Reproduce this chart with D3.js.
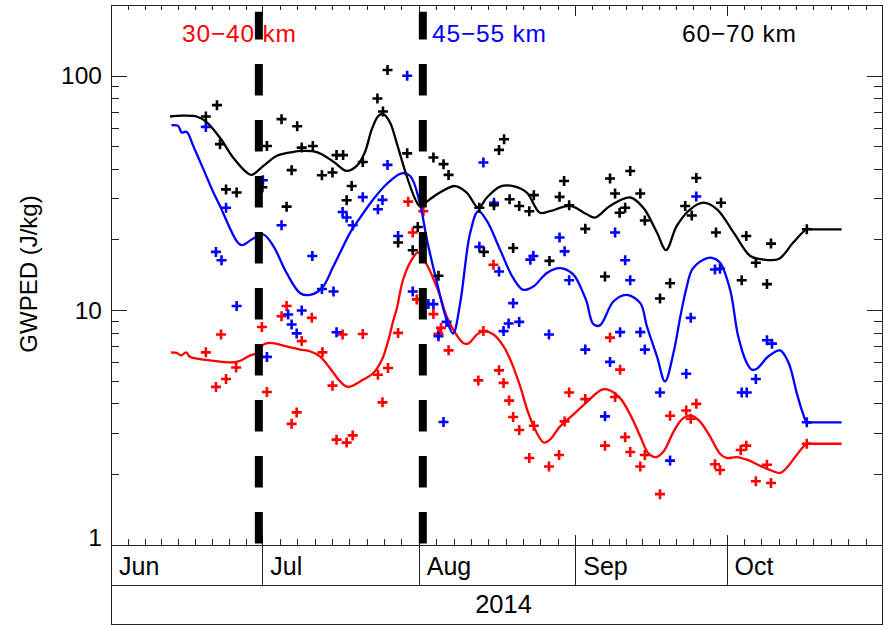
<!DOCTYPE html>
<html><head><meta charset="utf-8">
<script src="https://cdn.jsdelivr.net/npm/d3@7"></script>
<style>body{margin:0;background:#fff}svg{display:block;font-family:"Liberation Sans",Arial,sans-serif}</style>
</head><body><svg id="c" width="889" height="625"></svg>
<script>
// ---------- data ----------
const months = ["Jun","Jul","Aug","Sep","Oct"];
const yearLabel = "2014";
const yTickLabels = [1, 10, 100];
const yAxisTitle = "GWPED (J/kg)";
const seriesLabels = ["30\u221240 km", "45\u221255 km", "60\u221270 km"];
const seriesColors = ["#ff0000", "#0000ff", "#000000"];
const eventDays = [29.3, 61.8];           // days after 2014-06-01
// [days after 2014-06-01, GWPED J/kg]
const redPoints = [[18.8,6.60],[20.8,4.70],[21.8,7.86],[22.8,5.08],[24.8,5.69],[29.9,8.46],[30.9,4.47],[33.8,9.41],[34.8,10.4],[35.8,3.27],[36.8,3.66],[37.8,7.37],[39.8,9.26],[41.9,6.60],[43.9,4.76],[44.7,2.80],[45.9,7.86],[46.7,2.72],[47.9,2.92],[49.9,7.90],[52.9,5.30],[53.8,4.04],[54.9,5.66],[56.9,7.99],[58.9,29.0],[59.8,21.4],[60.6,11.1],[61.9,26.4],[63.9,9.61],[64.9,7.91],[65.4,8.39],[66.9,6.73],[72.8,5.01],[73.8,8.13],[75.8,15.6],[76.9,5.53],[77.8,4.89],[78.9,4.11],[79.7,3.50],[80.9,3.08],[82.9,2.34],[83.8,3.21],[86.8,2.15],[88.8,2.41],[89.9,3.35],[90.8,4.45],[94.0,4.17],[97.9,2.64],[98.9,7.63],[99.9,4.26],[100.9,5.57],[101.9,2.87],[102.9,2.48],[104.9,2.15],[105.8,2.41],[108.8,1.64],[110.8,3.54],[114.0,3.73],[114.9,3.44],[116.0,3.98],[119.7,2.20],[120.7,2.08],[124.8,2.53],[125.9,2.64],[127.8,1.86],[130.0,2.19],[130.8,1.83],[137.9,2.69]];
const bluePoints = [[18.8,60.4],[20.8,17.7],[21.9,16.3],[22.8,27.3],[24.9,10.4],[30.1,35.8],[30.9,6.31],[33.8,23.0],[35.1,9.57],[35.8,8.67],[36.8,7.95],[37.8,9.95],[39.9,17.0],[41.8,12.3],[44.1,12.0],[44.7,8.04],[45.9,26.2],[46.7,24.8],[47.9,23.0],[49.9,30.3],[52.9,26.9],[53.8,29.5],[54.8,41.6],[56.9,20.7],[58.7,99.8],[59.8,12.0],[62.9,10.6],[63.9,10.6],[64.9,7.73],[65.9,3.33],[66.5,8.90],[73.0,18.6],[73.8,42.6],[75.9,28.7],[76.9,14.6],[77.8,8.13],[78.8,8.76],[79.7,10.7],[80.9,8.90],[83.1,16.4],[83.7,17.0],[86.8,7.86],[88.9,20.4],[89.9,17.8],[90.8,13.4],[94.0,6.78],[97.9,3.52],[98.9,6.01],[99.9,21.4],[100.9,8.05],[101.9,16.3],[102.9,13.4],[104.9,8.05],[105.8,6.78],[108.8,4.45],[110.8,2.28],[114.0,5.35],[114.9,9.26],[116.0,30.5],[119.7,14.9],[120.7,15.0],[125.0,4.45],[126.0,4.45],[127.8,5.08],[130.0,7.43],[131.0,7.19],[137.9,3.32]];
const blackPoints = [[18.8,66.9],[21.0,74.8],[21.6,51.0],[22.8,32.7],[24.9,31.7],[30.0,33.4],[30.9,50.1],[33.8,65.2],[34.8,27.6],[35.8,39.5],[36.9,60.8],[37.8,49.3],[40.0,50.1],[41.8,37.6],[43.9,38.6],[44.7,45.8],[46.0,45.8],[46.7,29.4],[47.7,33.8],[49.9,42.8],[52.8,79.9],[53.9,70.3],[54.8,105.6],[56.9,19.4],[58.7,46.6],[59.8,18.0],[60.8,22.6],[63.9,44.7],[64.9,14.0],[65.9,41.9],[66.9,37.7],[73.0,27.3],[73.9,17.7],[75.9,28.0],[76.9,48.2],[77.9,53.5],[79.0,29.7],[79.7,18.4],[80.9,27.8],[82.9,26.4],[83.8,30.9],[86.9,16.2],[88.9,30.4],[89.8,35.5],[90.8,28.0],[94.0,22.2],[97.9,13.9],[98.9,36.4],[99.9,31.4],[100.8,26.0],[101.9,27.3],[102.9,39.2],[104.9,31.4],[105.8,24.1],[108.8,11.2],[110.8,13.0],[113.8,27.8],[115.1,25.3],[116.0,36.6],[119.9,21.4],[120.9,28.7],[125.0,13.4],[125.9,20.7],[127.8,15.9],[130.0,12.9],[130.8,19.2],[137.9,22.1]];
const redLine = [[11.9,6.60],[13.0,6.56],[13.9,6.41],[14.9,6.60],[15.5,6.35],[16.3,6.25],[19.6,6.10],[24.2,5.98],[25.6,6.08],[27.5,6.39],[28.9,6.56],[30.2,7.12],[31.5,7.24],[34.8,7.00],[37.5,6.78],[39.4,6.67],[41.4,6.35],[44.1,5.39],[45.4,4.96],[47.0,4.70],[50.0,5.05],[52.0,5.39],[53.7,6.14],[55.0,7.48],[56.0,9.11],[56.6,10.05],[57.9,13.5],[59.6,16.4],[60.9,17.6],[62.6,15.6],[64.2,13.1],[65.2,11.5],[66.5,9.41],[68.2,8.0],[69.8,7.24],[70.8,7.19],[72.5,7.86],[73.8,8.12],[75.8,7.86],[77.8,7.00],[79.4,5.95],[81.1,4.72],[82.7,3.64],[84.4,2.99],[85.8,2.72],[87.0,2.80],[89.0,3.19],[91.6,3.58],[94.3,4.05],[97.3,4.58],[98.9,4.54],[100.9,4.21],[102.9,3.58],[104.9,2.89],[106.5,2.45],[108.0,2.36],[109.5,2.49],[111.5,3.03],[113.4,3.46],[115.1,3.54],[116.7,3.35],[118.7,2.89],[120.7,2.44],[122.0,2.34],[124.0,2.36],[126.0,2.30],[128.6,2.17],[131.3,2.05],[132.6,2.02],[133.9,2.12],[135.9,2.41],[137.9,2.69],[139.0,2.69],[144.8,2.69]];
const blueLine = [[12.0,61.4],[13.3,61.0],[14.0,57.2],[15.0,57.5],[16.3,50.1],[18.3,39.9],[20.3,31.7],[21.6,27.8],[24.9,19.7],[25.9,18.9],[28.2,20.2],[30.2,21.0],[32.2,18.7],[34.8,14.4],[37.5,11.8],[39.4,11.6],[41.8,12.4],[44.1,15.4],[47.4,21.4],[48.7,23.6],[52.0,29.7],[54.6,34.4],[57.6,38.3],[59.3,37.3],[61.2,28.7],[62.6,20.0],[64.6,13.1],[66.5,9.11],[67.8,7.94],[69.2,10.7],[71.2,21.4],[72.8,26.4],[74.5,24.0],[77.1,18.1],[79.7,13.7],[81.7,12.2],[83.7,12.6],[86.4,14.4],[89.0,15.1],[91.6,14.2],[93.6,11.8],[94.3,10.8],[95.6,8.7],[96.9,8.6],[99.6,10.9],[102.2,11.6],[104.9,10.7],[106.2,8.53],[108.2,6.35],[109.8,4.96],[111.5,6.6],[112.8,9.3],[114.0,12.3],[115.2,14.9],[117.4,16.4],[119.1,16.7],[120.7,15.9],[122.7,12.2],[124.3,7.73],[126.0,5.95],[127.0,5.57],[128.0,5.62],[130.3,6.35],[132.6,6.73],[134.3,5.95],[135.9,4.43],[137.1,3.64],[137.9,3.32],[139.0,3.32],[144.8,3.32]];
const blackLine = [[11.7,66.9],[14.0,67.5],[17.0,66.9],[19.0,63.1],[21.8,53.5],[24.2,44.7],[26.9,38.6],[27.9,37.7],[30.2,41.2],[32.8,45.4],[35.5,47.0],[37.5,47.7],[40.8,47.2],[44.1,42.9],[46.7,39.2],[48.7,41.2],[50.3,47.0],[51.7,59.1],[53.0,67.3],[54.0,68.5],[55.3,63.1],[56.6,51.8],[58.6,37.3],[60.3,29.7],[61.2,27.8],[63.2,29.7],[65.2,31.7],[68.2,33.8],[70.5,31.7],[72.8,27.3],[74.5,30.2],[77.1,33.6],[79.7,33.8],[82.4,31.7],[85.0,26.0],[87.0,26.4],[91.0,27.8],[94.3,25.6],[95.9,24.8],[98.9,27.8],[102.9,30.2],[105.5,27.3],[108.2,21.4],[110.0,18.0],[112.1,22.8],[114.8,26.9],[117.4,28.7],[120.1,26.9],[123.4,21.4],[126.7,17.0],[128.7,16.5],[132.3,16.5],[135.2,19.4],[137.9,22.1],[139.0,22.1],[144.8,22.1]];

// ---------- layout ----------
const svg = d3.select("#c");
const L = 111, R = 883, T = 5, B = 545;
const t0 = Date.UTC(2014, 5, 1), t1 = Date.UTC(2014, 10, 1);
const toDate = d => new Date(t0 + d * 864e5);
const x = d3.scaleUtc().domain([new Date(t0), new Date(t1)]).range([L, R]);
const y = d3.scaleLog().domain([1, 200]).range([B - 0.5, T]);
const ink = "#222";

// frame
svg.append("rect").attr("x", L + 0.5).attr("y", T + 0.5).attr("width", R - L - 1).attr("height", B - T)
  .attr("fill", "none").attr("stroke", ink).attr("stroke-width", 1);

// y ticks
const minor = [];
for (let dec = 1; dec < 200; dec *= 10) for (let k = 2; k <= 9; k++) if (k * dec < 200) minor.push(k * dec);
const yt = svg.append("g").attr("stroke", ink).attr("stroke-width", 1);
minor.forEach(v => {
  const yy = Math.round(y(v)) + 0.5;
  yt.append("line").attr("x1", L).attr("x2", L + 8).attr("y1", yy).attr("y2", yy);
  yt.append("line").attr("x1", R).attr("x2", R - 9).attr("y1", yy).attr("y2", yy);
});
yTickLabels.forEach(v => {
  const yy = Math.round(y(v)) + 0.5;
  yt.append("line").attr("x1", L).attr("x2", L + 16).attr("y1", yy).attr("y2", yy);
  yt.append("line").attr("x1", R).attr("x2", R - 16).attr("y1", yy).attr("y2", yy);
  svg.append("text").attr("x", L - 9).attr("y", Math.min(y(v), B - 8)).attr("dy", "0.35em")
    .attr("text-anchor", "end").attr("font-size", 24.5).attr("fill", "#000").text(v);
});
svg.append("text").attr("transform", `translate(37,274) rotate(-90)`).attr("text-anchor", "middle")
  .attr("font-size", 24).attr("fill", "#000").text(yAxisTitle);

// x ticks (months + 8 minor ticks per month)
const monthStarts = d3.utcMonth.range(new Date(t0), new Date(t1 + 1));
const xt = svg.append("g").attr("stroke", ink).attr("stroke-width", 1);
for (let i = 0; i < monthStarts.length - 1; i++) {
  const a = +monthStarts[i], b = +monthStarts[i + 1];
  for (let k = 1; k <= 8; k++) {
    const xx = Math.round(x(new Date(a + (b - a) * k / 9))) + 0.5;
    xt.append("line").attr("x1", xx).attr("x2", xx).attr("y1", B).attr("y2", B - 6);
    xt.append("line").attr("x1", xx).attr("x2", xx).attr("y1", T).attr("y2", T + 5);
  }
}
monthStarts.forEach(m => {
  const xx = Math.min(Math.round(x(m)) + 0.5, R - 0.5);
  xt.append("line").attr("x1", xx).attr("x2", xx).attr("y1", B - 10).attr("y2", 585);
  xt.append("line").attr("x1", xx).attr("x2", xx).attr("y1", T).attr("y2", T + 11);
});
// date box
const box = svg.append("g").attr("stroke", ink).attr("stroke-width", 1).attr("fill", "none");
box.append("line").attr("x1", L).attr("x2", R).attr("y1", 585.5).attr("y2", 585.5);
box.append("line").attr("x1", L).attr("x2", R).attr("y1", 624.5).attr("y2", 624.5);
box.append("line").attr("x1", L + 0.5).attr("x2", L + 0.5).attr("y1", B).attr("y2", 625);
box.append("line").attr("x1", R - 0.5).attr("x2", R - 0.5).attr("y1", B).attr("y2", 625);
months.forEach((m, i) => {
  svg.append("text").attr("x", x(monthStarts[i]) + 8).attr("y", 575).attr("font-size", 25)
    .attr("fill", "#000").text(m);
});
svg.append("text").attr("x", 503.5).attr("y", 613).attr("text-anchor", "middle").attr("font-size", 25.5)
  .attr("fill", "#000").text(yearLabel);

// series
const line = d3.line().x(d => x(toDate(d[0]))).y(d => y(d[1])).curve(d3.curveCatmullRom.alpha(0.5));
const plus = "M-5,0H5M0,-5V5";
const series = [[redPoints, redLine], [bluePoints, blueLine], [blackPoints, blackLine]];
series.forEach(([pts, ln], i) => {
  const g = svg.append("g");
  g.selectAll("path.pt").data(pts).join("path").attr("class", "pt")
    .attr("transform", d => `translate(${x(toDate(d[0]))},${y(d[1])})`)
    .attr("d", plus).attr("stroke", seriesColors[i]).attr("stroke-width", 2.6).attr("fill", "none");
  g.append("path").datum(ln).attr("d", line).attr("fill", "none")
    .attr("stroke", seriesColors[i]).attr("stroke-width", 2.3).attr("stroke-linejoin", "round");
});

// event lines
eventDays.forEach(d => {
  const xx = x(toDate(d));
  svg.append("line").attr("x1", xx).attr("x2", xx).attr("y1", y(1.01)).attr("y2", y(187))
    .attr("stroke", "#000").attr("stroke-width", 8).attr("stroke-dasharray", "31.5,24.5");
});

// series labels
seriesLabels.forEach((s, i) => {
  svg.append("text").attr("x", 182 + i * 250).attr("y", 42).attr("font-size", 24.5)
    .attr("textLength", 114).attr("lengthAdjust", "spacing")
    .attr("fill", seriesColors[i]).text(s);
});
</script></body></html>
